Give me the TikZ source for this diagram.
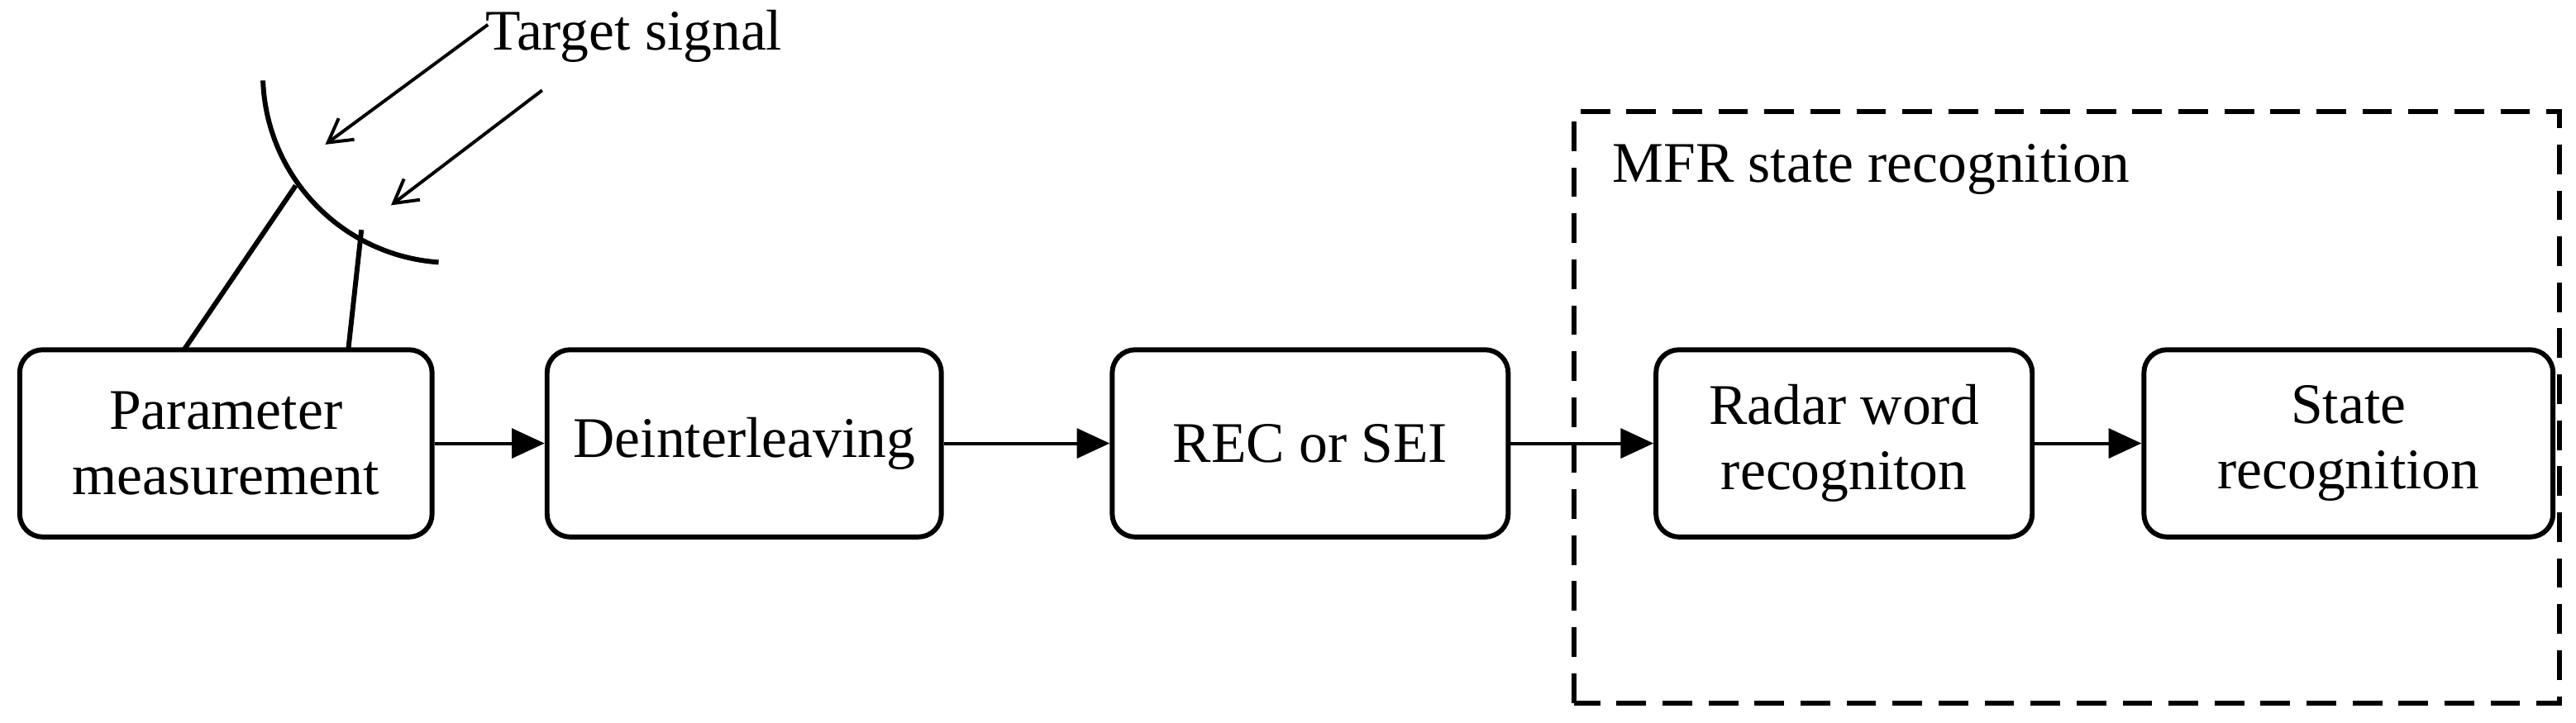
\documentclass[tikz,border=0pt]{standalone}
\usepackage{fontspec}
\setmainfont{Liberation Serif}
\usetikzlibrary{arrows.meta}
\begin{document}
\begin{tikzpicture}[x=1pt,y=1pt,
  box/.style={draw,line width=3pt,rounded corners=14pt,minimum height=114pt,align=center,font=\fontsize{35}{40}\selectfont},
  arr/.style={line width=2pt,-{Triangle[length=20pt,width=18pt]}},
  ln/.style={line width=3pt}]
\useasboundingbox (0,0) rectangle (1568,440);
\node[box,minimum width=251pt] (b1) at (137.5,170) {Parameter\\measurement};
\node[box,minimum width=240pt] (b2) at (453,170) {Deinterleaving};
\node[box,minimum width=241pt] (b3) at (797.5,170) {REC or SEI};
\node[box,minimum width=229pt] (b4) at (1122.5,170) {Radar word\\recogniton};
\node[box,minimum width=249pt] (b5) at (1429.5,170) {State\\recognition};
\draw[arr] (b1) -- (b2);
\draw[arr] (b2) -- (b3);
\draw[arr] (b3) -- (b4);
\draw[arr] (b4) -- (b5);
\draw[line width=3pt,dash pattern=on 18pt off 10pt] (958,12) rectangle (1558,372);
\node[anchor=west,font=\fontsize{35}{40}\selectfont] (mfr) at (978,337) {MFR state recognition};
\draw[ln] (275,395) ++(182:115) arc[start angle=182,end angle=266,radius=115];
\coordinate (l1a) at (180,327); \coordinate (l2a) at (220,300);
\draw[ln] (l1a) -- (112,227);
\draw[ln] (l2a) -- (212,227);
\node[anchor=west,font=\fontsize{35}{40}\selectfont] (ts) at (292,418) {Target signal};
\coordinate (a1s) at (297,425); \coordinate (a1e) at (198,352);
\coordinate (a2s) at (330,385); \coordinate (a2e) at (238,315);
\draw[line width=2pt,-{Straight Barb[length=14pt,width=16pt]}] (a1s) -- (a1e);
\draw[line width=2pt,-{Straight Barb[length=14pt,width=16pt]}] (a2s) -- (a2e);
\end{tikzpicture}
\end{document}
